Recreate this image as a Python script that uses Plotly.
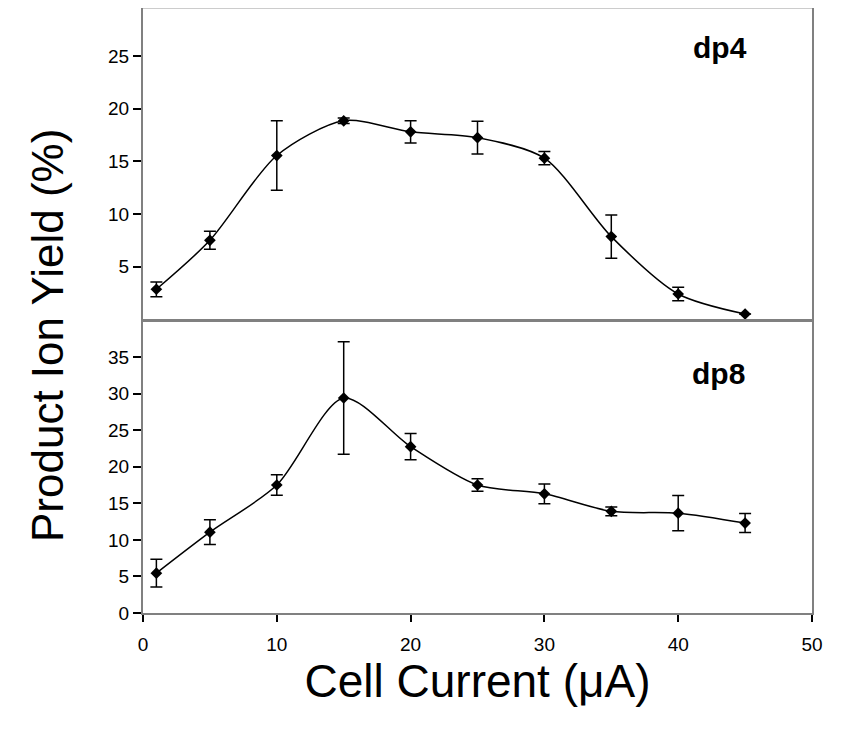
import plotly.graph_objects as go

############################################################
# DATA
############################################################
current = [1, 5, 10, 15, 20, 25, 30, 35, 40, 45]

# dp4 product ion yield (%) and error
dp4_yield = [2.85, 7.5, 15.55, 18.85, 17.8, 17.25, 15.3, 7.85, 2.4, 0.5]
dp4_err = [0.7, 0.85, 3.3, 0.27, 1.05, 1.55, 0.63, 2.05, 0.65, 0.0]

# dp8 product ion yield (%) and error
dp8_yield = [5.45, 11.05, 17.5, 29.4, 22.75, 17.5, 16.3, 13.9, 13.65, 12.3]
dp8_err = [1.9, 1.7, 1.4, 7.7, 1.8, 0.85, 1.35, 0.6, 2.4, 1.3]

x_ticks = [0, 10, 20, 30, 40, 50]
dp4_ticks = [5, 10, 15, 20, 25]
dp8_ticks = [0, 5, 10, 15, 20, 25, 30, 35]

FONT = "Arial, Liberation Sans, sans-serif"
GRAY = "#808080"

# page has an 8px body margin, so figure is a bit smaller than the window
W, H = 840, 724
ML, MR, MT, MB = 135, 36, 0, 119

############################################################
# Figure
############################################################
fig = go.Figure()


def add_series(y, err, xa, ya):
    fig.add_trace(go.Scatter(
        x=current, y=y,
        error_y=dict(type="data", array=err, visible=True,
                     color="black", thickness=1.5, width=6),
        mode="lines+markers",
        line=dict(color="black", width=1.5, shape="spline", smoothing=0.8),
        marker=dict(symbol="diamond", size=9, color="black"),
        xaxis=xa, yaxis=ya, showlegend=False,
    ))


add_series(dp4_yield, dp4_err, "x2", "y2")
add_series(dp8_yield, dp8_err, "x", "y")

plot_w = W - ML - MR
plot_h = H - MT - MB

fig.update_layout(
    width=W, height=H,
    margin=dict(l=ML, r=MR, t=MT, b=MB),
    plot_bgcolor="white", paper_bgcolor="white",
    font=dict(family=FONT, color="black", size=19),
    # bottom panel (dp8)
    xaxis=dict(domain=[0, 1], range=[0, 50], tickvals=x_ticks,
               showline=True, linecolor=GRAY, linewidth=2,
               ticks="outside", ticklen=7, tickcolor="black", tickwidth=1.5,
               ticklabelstandoff=6, showgrid=False, zeroline=False,
               tickfont=dict(size=19),
               title=dict(text="Cell Current (\u03bcA)",
                          font=dict(size=46), standoff=8)),
    yaxis=dict(domain=[0, 0.4835], range=[0, 40], tickvals=dp8_ticks,
               showline=True, linecolor=GRAY, linewidth=2, mirror=True,
               ticks="outside", ticklen=8, tickcolor="black", tickwidth=1.5,
               showgrid=False, zeroline=False, tickfont=dict(size=19)),
    # top panel (dp4)
    xaxis2=dict(domain=[0, 1], range=[0, 50], anchor="y2",
                showline=True, linecolor=GRAY, linewidth=3,
                showticklabels=False, ticks="", showgrid=False,
                zeroline=False),
    yaxis2=dict(domain=[0.4855, 1], range=[0, 29.56], anchor="x2",
                tickvals=dp4_ticks,
                showline=True, linecolor=GRAY, linewidth=2, mirror=True,
                ticks="outside", ticklen=8, tickcolor="black", tickwidth=1.5,
                showgrid=False, zeroline=False, tickfont=dict(size=19)),
    shapes=[dict(type="line", xref="x2 domain", yref="y2 domain",
                 x0=0, x1=1, y0=1, y1=1,
                 line=dict(color="#cccccc", width=2))],
    annotations=[
        dict(text="<b>dp4</b>", x=43.1, y=25.8, xref="x2", yref="y2",
             showarrow=False, font=dict(size=30)),
        dict(text="<b>dp8</b>", x=43.0, y=32.8, xref="x", yref="y",
             showarrow=False, font=dict(size=30)),
        # y title, centred at page pixel (47, 336)
        dict(text="Product Ion Yield (%)", textangle=-90,
             x=(47 - 8 - ML) / plot_w, y=(H - MB - (336 - 8)) / plot_h,
             xref="paper", yref="paper", xanchor="center", yanchor="middle",
             showarrow=False, font=dict(size=44)),
    ],
)

fig.write_html("out.html")
